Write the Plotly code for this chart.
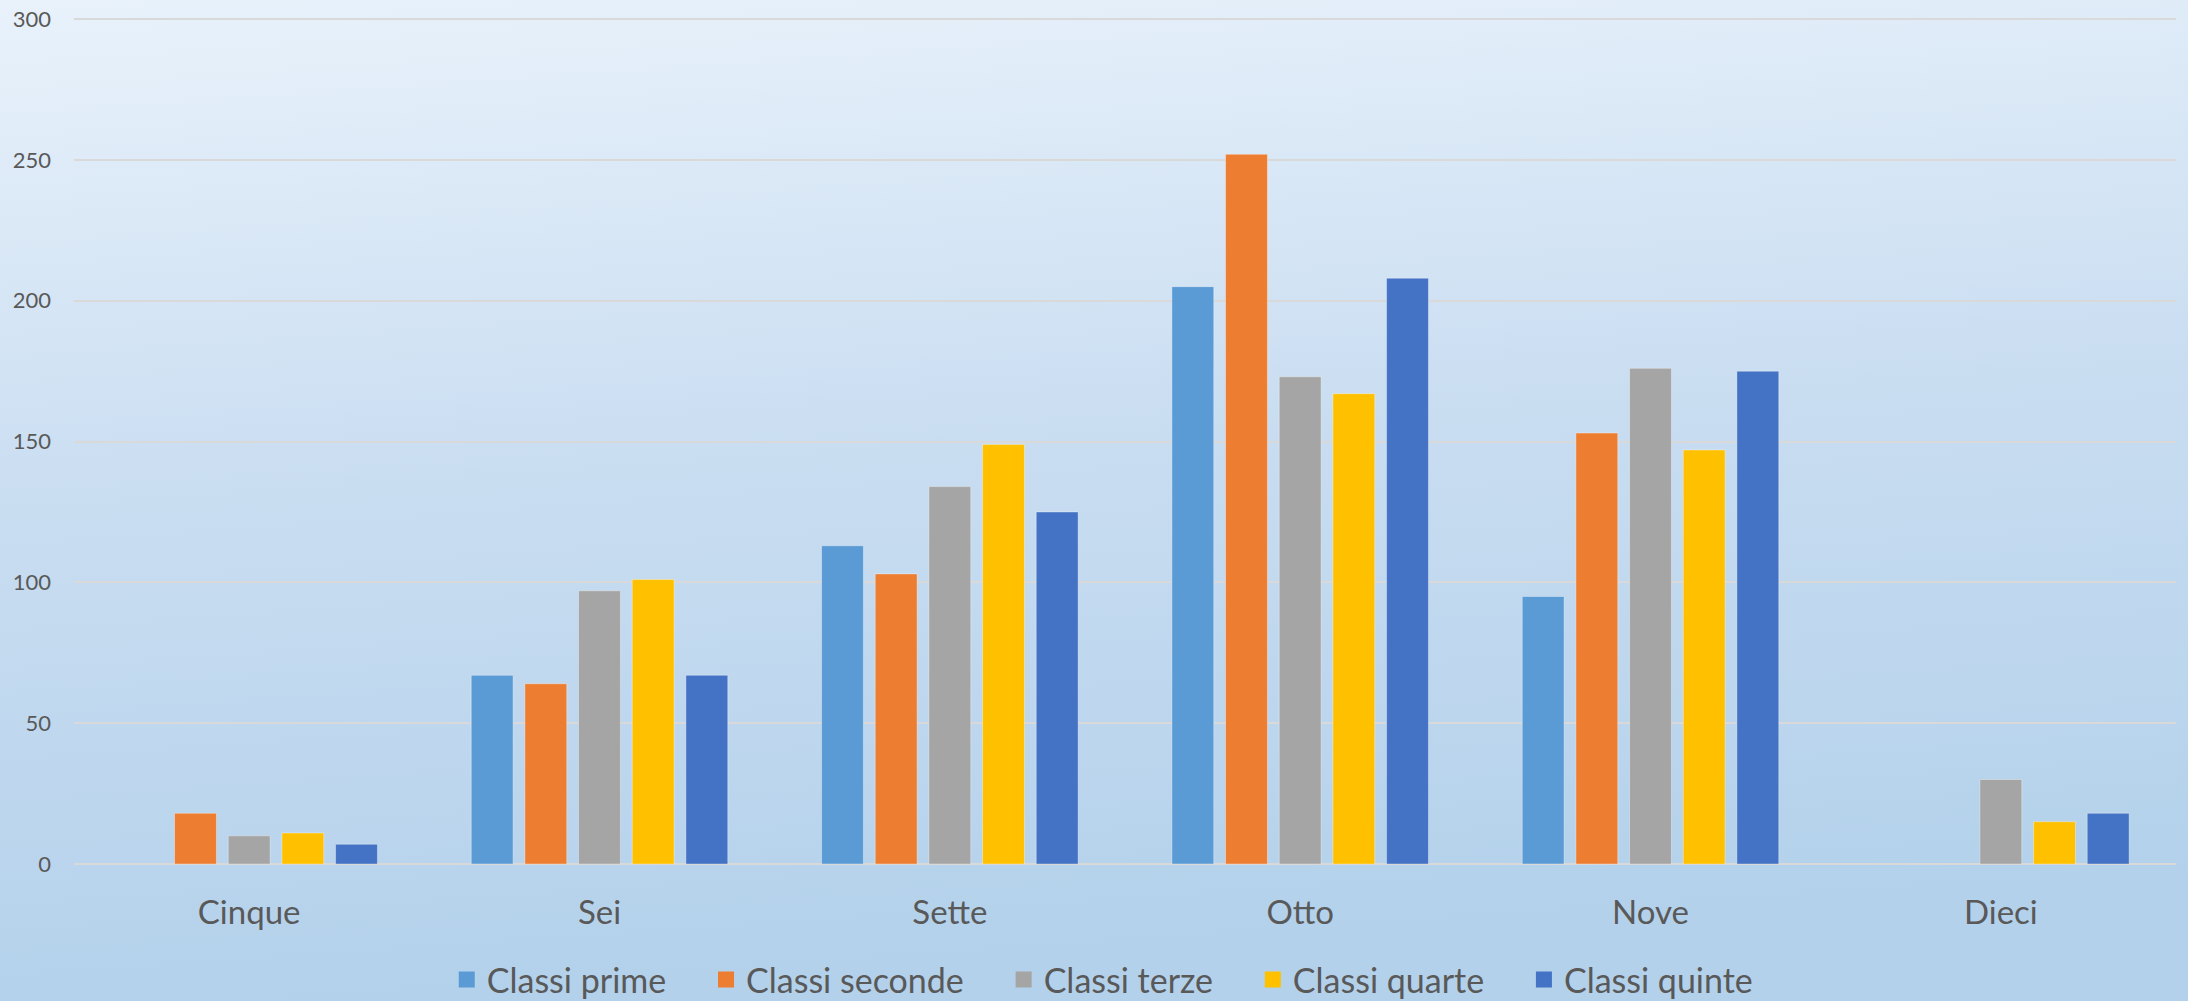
import base64
import plotly.graph_objects as go

categories = ["Cinque", "Sei", "Sette", "Otto", "Nove", "Dieci"]
series_names = ["Classi prime", "Classi seconde", "Classi terze", "Classi quarte", "Classi quinte"]
classi_prime = [None, 67, 113, 205, 95, None]
classi_seconde = [18, 64, 103, 252, 153, None]
classi_terze = [10, 97, 134, 173, 176, 30]
classi_quarte = [11, 101, 149, 167, 147, 15]
classi_quinte = [7, 67, 125, 208, 175, 18]
y_ticks = [0, 50, 100, 150, 200, 250, 300]

colors = ["#5B9BD5", "#ED7D31", "#A5A5A5", "#FFC000", "#4472C4"]
all_values = [classi_prime, classi_seconde, classi_terze, classi_quarte, classi_quinte]

W, H = 2188, 1001
ML, MR, MT, MB = 74, 12, 18, 137
PW, PH = W - ML - MR, H - MT - MB

FONT = "Lato, 'Open Sans', sans-serif"
TXT = "#595959"
PAD = "\u00a0" * 4

fig = go.Figure()
for name, vals, col in zip(series_names, all_values, colors):
    fig.add_trace(go.Bar(
        x=categories, y=vals, name=name,
        marker=dict(color=col, line=dict(color="rgba(255,255,255,0.35)", width=1)),
        showlegend=False, legendgroup=name,
    ))
for i, (name, col) in enumerate(zip(series_names, colors)):
    label = name + (PAD if i < len(series_names) - 1 else "")
    fig.add_trace(go.Scatter(
        x=[None], y=[None], mode="markers", name=label, legendgroup=name,
        marker=dict(symbol="square", size=16, color=col),
    ))

svg = (
    '<svg xmlns="http://www.w3.org/2000/svg" viewBox="0 0 100 100" width="100" height="100" preserveAspectRatio="none">'
    '<defs><linearGradient id="g" x1="0" y1="0" x2="0.15" y2="1">'
    '<stop offset="0" stop-color="#E9F2FB"/>'
    '<stop offset="0.5" stop-color="#C9DDF1"/>'
    '<stop offset="1" stop-color="#B3D1EB"/>'
    '</linearGradient></defs>'
    '<rect width="100" height="100" fill="url(#g)"/></svg>'
)
src = "data:image/svg+xml;base64," + base64.b64encode(svg.encode()).decode()

EXT = 4
fig.add_layout_image(dict(
    source=src, xref="paper", yref="paper",
    x=-(ML + EXT) / PW, y=1 + (MT + EXT) / PH,
    sizex=(W + 2 * EXT) / PW, sizey=(H + 2 * EXT) / PH,
    xanchor="left", yanchor="top", sizing="stretch", layer="below",
))

fig.update_layout(
    width=W, height=H,
    margin=dict(l=ML, r=MR, t=MT, b=MB, autoexpand=False),
    paper_bgcolor="#C9DDF1",
    plot_bgcolor="rgba(0,0,0,0)",
    barmode="group", bargap=0.234, bargroupgap=0.22,
    font=dict(family=FONT, color=TXT),
    legend=dict(
        orientation="h", xref="container", yref="container",
        x=0.504, xanchor="center", y=0.021, yanchor="middle",
        font=dict(size=34, color=TXT, family=FONT), bgcolor="rgba(0,0,0,0)",
        itemclick=False, itemdoubleclick=False,
    ),
    xaxis=dict(
        showgrid=False, showline=False, zeroline=False, ticks="",
        tickfont=dict(size=33, color=TXT, family=FONT),
        ticklabelstandoff=26,
    ),
    yaxis=dict(
        range=[0, 300.4], tickvals=y_ticks, showgrid=True, gridcolor="#D9D9D9", gridwidth=2,
        zeroline=True, zerolinecolor="#D9D9D9", zerolinewidth=2, showline=False, ticks="",
        tickfont=dict(size=22, color=TXT, family=FONT),
        ticklabelstandoff=22,
    ),
)

fig.write_html(
    "out.html",
    config={"displayModeBar": False},
    post_script="document.body.style.margin='0';document.body.style.overflow='hidden';",
)
